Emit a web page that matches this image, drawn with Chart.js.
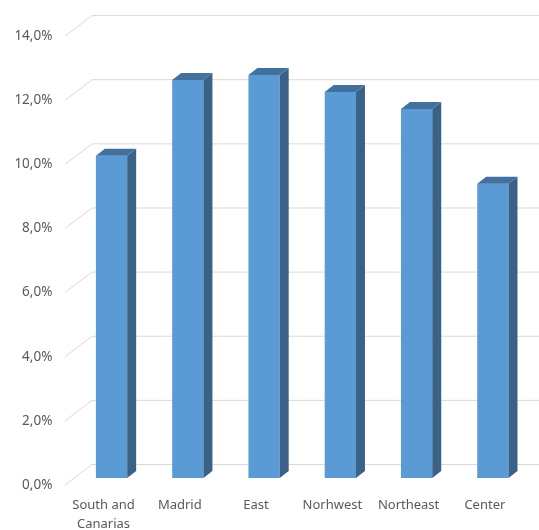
<!DOCTYPE html>
<html>
<head>
<meta charset="utf-8">
<script src="https://cdn.jsdelivr.net/npm/chart.js@4/dist/chart.umd.min.js"></script>
<style>
  html, body { margin: 0; padding: 0; background: #ffffff; }
  canvas { display: block; }
</style>
</head>
<body>
<canvas id="regions" width="539" height="530"></canvas>
<script>
// data
var categories = [['South and', 'Canarias'], 'Madrid', 'East', 'Norhwest', 'Northeast', 'Center'];
var shares = [10.05, 12.41, 12.57, 12.04, 11.51, 9.18];
var yTicks = [0, 2, 4, 6, 8, 10, 12, 14];

// 3d look: how far the back wall and the bar depth sit from the bar plane
var backShift = -13.5, frontShift = 7, wallDx = 27;
var depthX = 9, depthY = 7;

function pct(v) {
    return v.toFixed(1).replace('.', ',') + '%';
}

var gridWalls = {
    id: 'gridWalls',
    beforeDatasetsDraw: function (chart) {
        var ctx = chart.ctx;
        var y = chart.scales.y;
        var xBack = 92, xFront = xBack - wallDx;
        ctx.save();
        ctx.strokeStyle = '#d9d9d9';
        ctx.lineWidth = 1;
        yTicks.forEach(function (t) {
            var py = y.getPixelForValue(t);
            ctx.beginPath();
            ctx.moveTo(xFront, py + frontShift);
            ctx.lineTo(xBack, py + backShift);
            ctx.lineTo(chart.width, py + backShift);
            ctx.stroke();
        });
        ctx.restore();
    }
};

var barDepth = {
    id: 'barDepth',
    afterDatasetsDraw: function (chart) {
        var ctx = chart.ctx;
        var meta = chart.getDatasetMeta(0);
        ctx.save();
        meta.data.forEach(function (bar) {
            var p = bar.getProps(['x', 'y', 'base', 'width'], true);
            var l = p.x - p.width / 2, r = p.x + p.width / 2;
            // side
            ctx.fillStyle = '#3a6186';
            ctx.beginPath();
            ctx.moveTo(r, p.y);
            ctx.lineTo(r + depthX, p.y - depthY);
            ctx.lineTo(r + depthX, p.base - depthY);
            ctx.lineTo(r, p.base);
            ctx.closePath();
            ctx.fill();
            // top
            ctx.fillStyle = '#41719c';
            ctx.beginPath();
            ctx.moveTo(l, p.y);
            ctx.lineTo(l + depthX, p.y - depthY);
            ctx.lineTo(r + depthX, p.y - depthY);
            ctx.lineTo(r, p.y);
            ctx.closePath();
            ctx.fill();
        });
        ctx.restore();
    }
};

var ctx = document.getElementById('regions').getContext('2d');
var regionsChart = new Chart(ctx, {
    type: 'bar',
    data: {
        labels: categories,
        datasets: [{
            data: shares,
            backgroundColor: '#5b9bd5',
            borderWidth: 0,
            categoryPercentage: 1,
            barPercentage: 0.41
        }]
    },
    options: {
        responsive: false,
        animation: false,
        layout: { padding: { top: 27.5, right: 8, left: 0, bottom: 0 } },
        plugins: {
            legend: { display: false },
            tooltip: { enabled: false }
        },
        scales: {
            x: {
                grid: { display: false, drawTicks: false, tickLength: 0 },
                border: { display: false },
                afterFit: function (s) { s.height = 52; },
                ticks: {
                    padding: 18,
                    labelOffset: -8,
                    color: '#595959',
                    maxRotation: 0,
                    autoSkip: false,
                    font: { family: 'Noto Sans', size: 13, lineHeight: 1.45 }
                }
            },
            y: {
                min: 0,
                max: 14,
                grid: { display: false, drawTicks: false, tickLength: 0 },
                border: { display: false },
                afterFit: function (s) { s.width = 73.4; },
                afterBuildTicks: function (s) {
                    s.ticks = yTicks.map(function (v) { return { value: v }; });
                },
                ticks: {
                    padding: 21,
                    labelOffset: frontShift,
                    color: '#595959',
                    font: { family: 'Noto Sans', size: 13.5 },
                    callback: function (v) { return pct(v); }
                }
            }
        }
    },
    plugins: [gridWalls, barDepth]
});
</script>
</body>
</html>
